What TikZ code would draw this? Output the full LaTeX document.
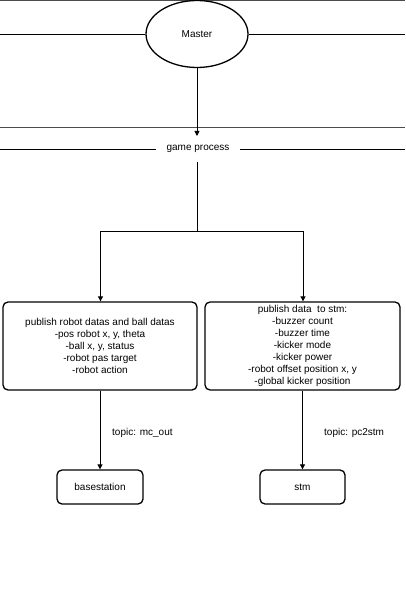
\documentclass[tikz,border=0pt]{standalone}
\usepackage{fontspec}
\setmainfont{Liberation Sans}
\usetikzlibrary{shapes.geometric,arrows.meta}
\begin{document}
\begin{tikzpicture}[x=1pt,y=-1pt,
  every node/.style={font=\fontsize{10}{11.9}\selectfont},
  box/.style={draw,line width=1.3pt,rounded corners=5pt,align=center,inner sep=0pt},
  conn/.style={line width=0.9pt,-{Triangle[length=5pt,width=5pt]}},
  plain/.style={line width=0.9pt},
  greyline/.style={line width=1pt,draw=black!70}]
\useasboundingbox (0,0) rectangle (405,593);
\draw[greyline] (0,0.5) -- (405,0.5);
\node[draw,ellipse,line width=1.3pt,minimum width=102pt,minimum height=67pt,inner sep=0pt] (master) at (197,34) {Master};
\coordinate (ml) at (0,34);
\coordinate (mr) at (405,34);
\draw[plain] (ml) -- (master.west);
\draw[plain] (master.east) -- (mr);
\coordinate (gl) at (0,128);
\coordinate (gr) at (405,128);
\draw[greyline] (gl) -- (gr);
\coordinate (garrow) at (197,136);
\draw[conn] (master.south) -- (garrow);
\node[inner sep=0pt,minimum width=84pt,minimum height=13pt] (gp) at (198,149) {game process};
\coordinate (gpl) at (0,149);
\coordinate (gpr) at (405,149);
\draw[plain] (gpl) -- (gp.west);
\draw[plain] (gp.east) -- (gpr);
\coordinate (vtop) at (197,162);
\coordinate (split) at (197,231);
\coordinate (sl) at (100.5,231);
\coordinate (sr) at (303,231);
\node[box,minimum width=194pt,minimum height=88pt] (pub1) at (100,346) {publish robot datas and ball datas\\-pos robot x, y, theta\\-ball x, y, status\\-robot pas target\\-robot action};
\node[box,minimum width=195pt,minimum height=88pt] (pub2) at (302.5,346) {publish data\ \ to stm:\\-buzzer count\\-buzzer time\\-kicker mode\\-kicker power\\-robot offset position x, y\\-global kicker position};
\draw[plain] (vtop) -- (split);
\draw[conn] (split) -- (sl) -- (sl |- pub1.north);
\draw[conn] (split) -- (sr) -- (sr |- pub2.north);
\node[box,minimum width=86pt,minimum height=34pt] (base) at (100,487) {basestation};
\node[box,minimum width=85pt,minimum height=34pt] (stm) at (302.5,487) {stm};
\draw[conn] (pub1.south -| base.north) -- (base.north);
\draw[conn] (pub2.south -| stm.north) -- (stm.north);
\node[anchor=west,inner sep=0pt] (t1) at (112,433) {topic: mc\_out};
\node[anchor=west,inner sep=0pt] (t2) at (324,433) {topic: pc2stm};
\end{tikzpicture}
\end{document}
